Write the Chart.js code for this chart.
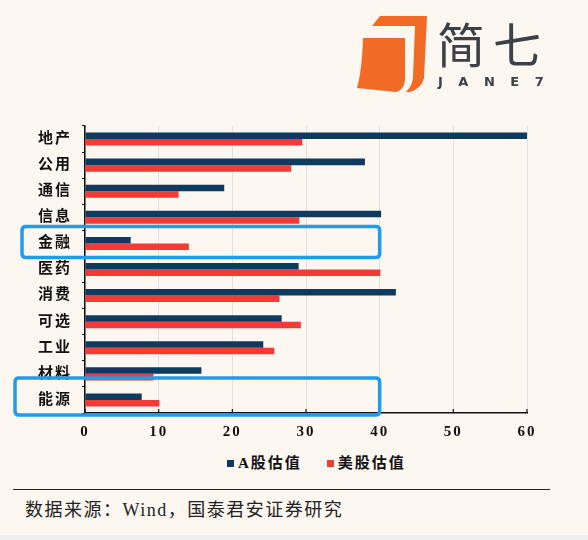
<!DOCTYPE html>
<html>
<head>
<meta charset="utf-8">
<script src="https://cdn.jsdelivr.net/npm/chart.js@4/dist/chart.umd.min.js"></script>
<style>
  body { margin: 0; background: #fdf7f1; }
  #page { position: relative; width: 588px; height: 540px; overflow: hidden; background: #fdf7f1; }
  #chartBox { position: absolute; left: 0; top: 0; width: 588px; height: 446px; }
  #logo { position: absolute; left: 355px; top: 8px; }
  #logoText { position: absolute; left: 437px; top: 18px; font-family: "Noto Sans CJK SC"; font-weight: 400; font-size: 48px; line-height: 48px; color: #3b4147; letter-spacing: 8px; }
  #logoSub { position: absolute; left: 438px; top: 74px; font-family: "DejaVu Sans"; font-weight: bold; font-size: 13px; line-height: 16px; color: #3b4147; letter-spacing: 15.5px; }
  #legend { position: absolute; left: 227px; top: 452px; display: flex; gap: 25px; font-family: "Liberation Serif", "Noto Sans CJK SC"; font-weight: bold; font-size: 15px; line-height: 22px; color: #111; letter-spacing: 2px; }
  #legend .item { display: flex; align-items: center; }
  #legend .swatch { width: 7px; height: 7px; margin-right: 4px; }
  #rule { position: absolute; left: 13px; top: 489px; width: 537px; height: 0; border-top: 1.5px solid #222; }
  #source { position: absolute; left: 25px; top: 495px; font-family: "Liberation Serif", "Noto Sans CJK SC"; font-size: 18px; color: #222; letter-spacing: 1.5px; }
  #strip { position: absolute; left: 0; top: 535px; width: 588px; height: 5px; background: #efefef; }
</style>
</head>
<body>
<div id="page">
  <div id="chartBox"><canvas id="valChart"></canvas></div>
  <svg id="logo" width="80" height="90" viewBox="355 8 80 90">
    <path d="M372,26 L380,16 L427,16 L424,78 Q422,88 410,92 L406,92 Q413,85 413,76 L415,26 Z" fill="#f26b25"/>
    <path d="M363,38 L405,38 L405,80 Q404,90 396,92 L357,88 Q362,70 363,38 Z" fill="#f26b25"/>
  </svg>
  <div id="logoText">简七</div>
  <div id="logoSub">JANE7</div>
  <div id="legend"></div>
  <div id="rule"></div>
  <div id="source">数据来源：Wind，国泰君安证券研究</div>
  <div id="strip"></div>
</div>
<script>
var sectors = ["地产", "公用", "通信", "信息", "金融", "医药", "消费", "可选", "工业", "材料", "能源"];
var aShareVals = [60, 38.0, 18.9, 40.2, 6.2, 29.0, 42.2, 26.7, 24.2, 15.8, 7.7];
var usShareVals = [29.5, 28.0, 12.7, 29.1, 14.1, 40.1, 26.4, 29.3, 25.7, 9.3, 10.1];
var xTicks = [0, 10, 20, 30, 40, 50, 60];

var FONT_FAMILY = '"Liberation Serif", "Noto Sans CJK SC"';

// blue highlight frames: sector, left pixel, extent above/below the category centre, right edge value
var highlights = [
  {sector: "金融", left: 22, up: 17, down: 14, toValue: 40},
  {sector: "能源", left: 15, up: 22, down: 15, toValue: 40}
];

function roundRect(ctx, x, y, w, h, r) {
  ctx.beginPath();
  ctx.moveTo(x + r, y);
  ctx.lineTo(x + w - r, y);
  ctx.quadraticCurveTo(x + w, y, x + w, y + r);
  ctx.lineTo(x + w, y + h - r);
  ctx.quadraticCurveTo(x + w, y + h, x + w - r, y + h);
  ctx.lineTo(x + r, y + h);
  ctx.quadraticCurveTo(x, y + h, x, y + h - r);
  ctx.lineTo(x, y + r);
  ctx.quadraticCurveTo(x, y, x + r, y);
  ctx.closePath();
}

// the source chart has slightly spaced-out lettering
var spacingPlugin = {
  id: "spacing",
  beforeLayout: function(chart) { chart.ctx.letterSpacing = "2px"; },
  beforeDraw: function(chart) { chart.ctx.letterSpacing = "2px"; }
};

var framePlugin = {
  id: "frames",
  afterDraw: function(chart) {
    var ctx = chart.ctx;
    var xs = chart.scales.x;
    var ys = chart.scales.y;
    ctx.save();
    // short inner tick marks on the x axis
    ctx.strokeStyle = "#111";
    ctx.lineWidth = 1.2;
    xTicks.forEach(function(v) {
      var px = xs.getPixelForValue(v);
      ctx.beginPath();
      ctx.moveTo(px, ys.bottom);
      ctx.lineTo(px, ys.bottom - 4);
      ctx.stroke();
    });
    ctx.strokeStyle = "#1e9cf0";
    ctx.lineWidth = 3.5;
    highlights.forEach(function(h) {
      var cy = ys.getPixelForValue(sectors.indexOf(h.sector));
      var right = xs.getPixelForValue(h.toValue);
      roundRect(ctx, h.left, cy - h.up, right - h.left, h.up + h.down, 4);
      ctx.stroke();
    });
    ctx.restore();
  }
};

var chart = new Chart(document.getElementById("valChart"), {
  type: "bar",
  data: {
    labels: sectors,
    datasets: [{
      label: "A股估值",
      data: aShareVals,
      backgroundColor: "#0f3a5f",
      categoryPercentage: 0.5,
      barPercentage: 1.0
    }, {
      label: "美股估值",
      data: usShareVals,
      backgroundColor: "#f23a36",
      categoryPercentage: 0.5,
      barPercentage: 1.0
    }]
  },
  options: {
    indexAxis: "y",
    responsive: true,
    maintainAspectRatio: false,
    animation: false,
    layout: { padding: { left: 0, right: 61, top: 126, bottom: 0 } },
    scales: {
      x: {
        min: 0,
        max: 60,
        ticks: { stepSize: 10, padding: 10, color: "#111", font: { family: FONT_FAMILY, size: 15, weight: "bold" } },
        grid: { color: "#dde2e6", drawTicks: false },
        border: { color: "#111", width: 1.5 },
        afterFit: function(scale) { scale.height = 33; }
      },
      y: {
        ticks: { padding: 10, color: "#111", font: { family: FONT_FAMILY, size: 15, weight: "bold" } },
        grid: { offset: true, drawOnChartArea: false, drawTicks: true, tickLength: 3, color: "#111" },
        border: { color: "#111", width: 1.5 },
        afterFit: function(scale) { scale.width = 85; }
      }
    },
    plugins: {
      legend: { display: false },
      tooltip: { enabled: false }
    }
  },
  plugins: [spacingPlugin, framePlugin]
});

// legend built from the chart's datasets
var legendEl = document.getElementById("legend");
chart.data.datasets.forEach(function(ds) {
  var item = document.createElement("div");
  item.className = "item";
  var sw = document.createElement("span");
  sw.className = "swatch";
  sw.style.background = ds.backgroundColor;
  var txt = document.createElement("span");
  txt.textContent = ds.label;
  item.appendChild(sw);
  item.appendChild(txt);
  legendEl.appendChild(item);
});
</script>
</body>
</html>
